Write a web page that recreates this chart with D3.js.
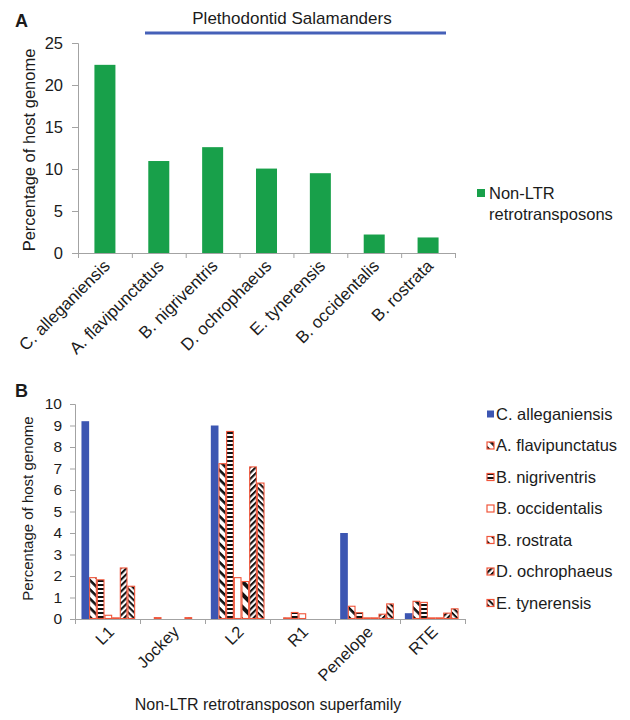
<!DOCTYPE html>
<html>
<head>
<meta charset="utf-8">
<script src="https://cdn.jsdelivr.net/npm/d3@7"></script>
<style>
  body { margin: 0; background: #fff; }
  svg text { font-family: "Liberation Sans", Arial, Helvetica, sans-serif; fill: #1b1b1b; }
</style>
</head>
<body>
<svg id="chart" width="630" height="720"></svg>
<script>
// ---- Panel A: total non-LTR retrotransposon content per species ----
const species = ["C. alleganiensis", "A. flavipunctatus", "B. nigriventris", "D. ochrophaeus",
                 "E. tynerensis", "B. occidentalis", "B. rostrata"];
const nonLtrPercent = [22.4, 10.95, 12.6, 10.05, 9.5, 2.2, 1.85];
const yTicksA = [0, 5, 10, 15, 20, 25];

// ---- Panel B: content per non-LTR superfamily, one array per species ----
const superfamilies = ["L1", "Jockey", "L2", "R1", "Penelope", "RTE"];
const seriesNames = ["C. alleganiensis", "A. flavipunctatus", "B. nigriventris", "B. occidentalis",
                     "B. rostrata", "D. ochrophaeus", "E. tynerensis"];
const cAlleganiensis  = [9.2, 0, 9.0, 0, 4.0, 0.27];
const aFlavipunctatus = [1.9, 0.04, 7.2, 0.03, 0.57, 0.8];
const bNigriventris   = [1.8, 0, 8.7, 0.28, 0.27, 0.75];
const bOccidentalis   = [0.15, 0, 1.9, 0.22, 0.03, 0.03];
const bRostrata       = [0.03, 0, 1.72, 0, 0.03, 0.03];
const dOchrophaeus    = [2.35, 0.04, 7.05, 0, 0.2, 0.25];
const eTynerensis     = [1.5, 0, 6.3, 0, 0.68, 0.45];
const yTicksB = [0, 1, 2, 3, 4, 5, 6, 7, 8, 9, 10];

const seriesValues = [cAlleganiensis, aFlavipunctatus, bNigriventris, bOccidentalis,
                      bRostrata, dOchrophaeus, eTynerensis];

const GREEN = "#18a04a", BLUE = "#3c56b2", RED = "#f0553a", AXIS = "#a3a3a3";

const svg = d3.select("#chart");
const defs = svg.append("defs");

// hatch fills for the outlined series
function stripes(id, size, thick, angle) {
  const p = defs.append("pattern").attr("id", id).attr("patternUnits", "userSpaceOnUse")
    .attr("width", size).attr("height", size).attr("patternTransform", `rotate(${angle})`);
  p.append("rect").attr("width", size).attr("height", size).attr("fill", "#fff");
  p.append("rect").attr("width", size).attr("height", thick).attr("fill", "#111");
}
stripes("p-flavi", 6.5, 2.6, 45);
stripes("p-nigri", 4, 2, 0);
stripes("p-rostr", 9, 4, 45);
stripes("p-ochro", 4.2, 2.1, -45);
stripes("p-tyner", 4.2, 2, 45);

const fills = [BLUE, "url(#p-flavi)", "url(#p-nigri)", "#fff", "url(#p-rostr)", "url(#p-ochro)", "url(#p-tyner)"];

function styleAxis(g) {
  g.selectAll(".domain").attr("stroke", AXIS);
  g.selectAll(".tick line").attr("stroke", AXIS);
}

// ================= Panel A =================
const A = { left: 78, right: 455, top: 43, bottom: 253 };
const xA = d3.scaleBand().domain(species).range([A.left, A.right]).paddingInner(0.61).paddingOuter(0.305);
const yA = d3.scaleLinear().domain([0, 25]).range([A.bottom, A.top]);

svg.append("text").attr("x", 15).attr("y", 27).attr("font-size", 18).attr("font-weight", "bold").text("A");

svg.append("text").attr("x", 292).attr("y", 24).attr("text-anchor", "middle").attr("font-size", 17)
  .text("Plethodontid Salamanders");
svg.append("line").attr("x1", 145).attr("x2", 446).attr("y1", 33).attr("y2", 33)
  .attr("stroke", "#4560b8").attr("stroke-width", 3);

svg.append("g").selectAll("rect").data(species).join("rect")
  .attr("x", d => xA(d)).attr("width", xA.bandwidth())
  .attr("y", (d, i) => yA(nonLtrPercent[i]))
  .attr("height", (d, i) => yA(0) - yA(nonLtrPercent[i]))
  .attr("fill", GREEN);

const gyA = svg.append("g").attr("transform", `translate(${A.left},0)`)
  .call(d3.axisLeft(yA).tickValues(yTicksA).tickSize(6).tickPadding(9))
  .call(styleAxis);
gyA.selectAll("text").attr("font-size", 16.5).attr("fill", "#1b1b1b");

const edgesA = d3.scaleLinear().domain([0, species.length]).range([A.left, A.right]);
svg.append("g").attr("transform", `translate(0,${A.bottom})`)
  .call(d3.axisBottom(edgesA).tickValues(d3.range(species.length + 1)).tickSize(5).tickFormat(""))
  .call(styleAxis);

svg.append("g").selectAll("text").data(species).join("text")
  .attr("transform", d => `translate(${xA(d) + xA.bandwidth() / 2 + 6},${A.bottom + 14}) rotate(-45)`)
  .attr("text-anchor", "end").attr("font-size", 17).text(d => d);

svg.append("text").attr("transform", `translate(35,${(A.top + A.bottom) / 2 + 2}) rotate(-90)`)
  .attr("text-anchor", "middle").attr("font-size", 16.5).text("Percentage of host genome");

svg.append("rect").attr("x", 477).attr("y", 189).attr("width", 8).attr("height", 8).attr("fill", GREEN);
svg.append("text").attr("x", 489).attr("y", 199).attr("font-size", 16.5).text("Non-LTR");
svg.append("text").attr("x", 489).attr("y", 220).attr("font-size", 16.5).text("retrotransposons");

// ================= Panel B =================
const B = { left: 75, right: 465, top: 404, bottom: 619 };
const x0 = d3.scaleBand().domain(superfamilies).range([B.left, B.right]).paddingInner(0.17).paddingOuter(0.1);
const x1 = d3.scaleBand().domain(seriesNames).range([0, x0.bandwidth()]);
const yB = d3.scaleLinear().domain([0, 10]).range([B.bottom, B.top]);

svg.append("text").attr("x", 15).attr("y", 397).attr("font-size", 18).attr("font-weight", "bold").text("B");

const groups = svg.append("g").selectAll("g").data(superfamilies).join("g")
  .attr("transform", d => `translate(${x0(d)},0)`);
groups.selectAll("rect")
  .data((d, j) => seriesNames.map((s, i) => ({ s, i, v: seriesValues[i][j] })))
  .join("rect")
  .attr("x", d => x1(d.s) + (d.i === 0 ? 0 : 0.5))
  .attr("width", d => x1.bandwidth() - (d.i === 0 ? 0 : 1))
  .attr("y", d => yB(d.v) - (d.i === 0 ? 0 : 0.5))
  .attr("height", d => yB(0) - yB(d.v))
  .attr("fill", d => fills[d.i])
  .attr("stroke", d => d.i === 0 ? "none" : RED)
  .attr("stroke-width", 1.1)
  .style("display", d => d.v > 0 ? null : "none");

const gyB = svg.append("g").attr("transform", `translate(${B.left},0)`)
  .call(d3.axisLeft(yB).tickValues(yTicksB).tickSize(5).tickPadding(8))
  .call(styleAxis);
gyB.selectAll("text").attr("font-size", 15.5).attr("fill", "#1b1b1b");

const edgesB = d3.scaleLinear().domain([0, superfamilies.length]).range([B.left, B.right]);
svg.append("g").attr("transform", `translate(0,${B.bottom})`)
  .call(d3.axisBottom(edgesB).tickValues(d3.range(superfamilies.length + 1)).tickSize(5).tickFormat(""))
  .call(styleAxis);

svg.append("g").selectAll("text").data(superfamilies).join("text")
  .attr("transform", d => `translate(${x0(d) + x0.bandwidth() / 2 + 7},${B.bottom + 14}) rotate(-45)`)
  .attr("text-anchor", "end").attr("font-size", 16.5).text(d => d);

svg.append("text").attr("transform", `translate(33,${(B.top + B.bottom) / 2 - 3}) rotate(-90)`)
  .attr("text-anchor", "middle").attr("font-size", 15).text("Percentage of host genome");

svg.append("text").attr("x", 268).attr("y", 710).attr("text-anchor", "middle").attr("font-size", 16)
  .text("Non-LTR retrotransposon superfamily");

const leg = svg.append("g").selectAll("g").data(seriesNames).join("g")
  .attr("transform", (d, i) => `translate(487,${414 + i * 31.5})`);
leg.append("rect").attr("x", 0).attr("y", -3.5).attr("width", 7).attr("height", 7)
  .attr("fill", (d, i) => fills[i]).attr("stroke", (d, i) => i === 0 ? "none" : RED).attr("stroke-width", 1.2);
leg.append("text").attr("x", 9).attr("y", 5.5).attr("font-size", 16.5).text(d => d);
</script>
</body>
</html>
